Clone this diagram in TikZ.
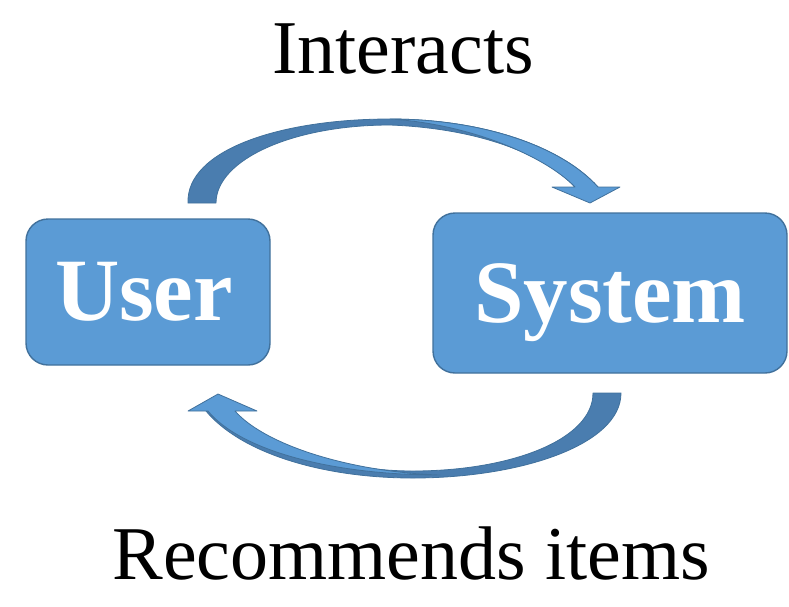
\documentclass[tikz,border=0pt]{standalone}
\usepackage{fontspec}
\setmainfont{Liberation Serif}
\definecolor{boxfill}{HTML}{5B9BD5}
\definecolor{boxline}{HTML}{41719C}
\definecolor{arrowdark}{HTML}{4A7DAF}
\begin{document}
\begin{tikzpicture}[x=1pt,y=-1pt,
  block/.style={draw=boxline,line width=1.4pt,fill=boxfill,rounded corners=22pt,inner sep=0pt},
  blocktext/.style={text=white,font=\fontsize{89}{92}\selectfont\bfseries,anchor=base,inner sep=0pt},
  label/.style={font=\fontsize{76}{80}\selectfont,anchor=base,inner sep=0pt},
  bandlight/.style={fill=boxfill,draw=boxline,line width=0.8pt,line join=round},
  banddark/.style={fill=arrowdark,draw=boxline,line width=0.8pt,line join=round}]
\useasboundingbox (0,0) rectangle (789,606);

% boxes
\node[block,minimum width=244pt,minimum height=146pt] (user) at (148,292) {};
\node[block,minimum width=354pt,minimum height=160pt] (system) at (610,293) {};
\node[blocktext] (usertxt) at (144,320) {User};
\node[blocktext] (systemtxt) at (610,322) {System};

% captions
\node[label] (interacts) at (403,73) {Interacts};
\node[label] (recommends) at (411,579) {Recommends items};

% upper curved arrow: User -> System
\fill[banddark] (188,203) .. controls (186,150) and (280,119) .. (390,119)
  .. controls (480,119) and (560,145) .. (598,187) -- (575,187)
  .. controls (540,150) and (470,128) .. (390,125)
  .. controls (292,125) and (216,160) .. (216,203) -- cycle;
\fill[bandlight] (390,119) .. controls (480,119) and (560,145) .. (598,187)
  -- (620,187) -- (590,203) -- (552,187) -- (575,187)
  .. controls (545,156) and (470,124) .. (390,119) -- cycle;

% lower curved arrow: System -> User
\fill[banddark] (621,393) .. controls (621,445) and (520,478) .. (413,478)
  .. controls (320,478) and (240,452) .. (206,411) -- (234,411)
  .. controls (268,448) and (340,471) .. (413,471)
  .. controls (510,471) and (593,440) .. (593,393) -- cycle;
\fill[bandlight] (440,475) .. controls (330,475) and (240,450) .. (208,411)
  -- (188,411) -- (218,394) -- (257,411) -- (235,411)
  .. controls (265,445) and (350,472) .. (440,475) -- cycle;
\end{tikzpicture}
\end{document}
